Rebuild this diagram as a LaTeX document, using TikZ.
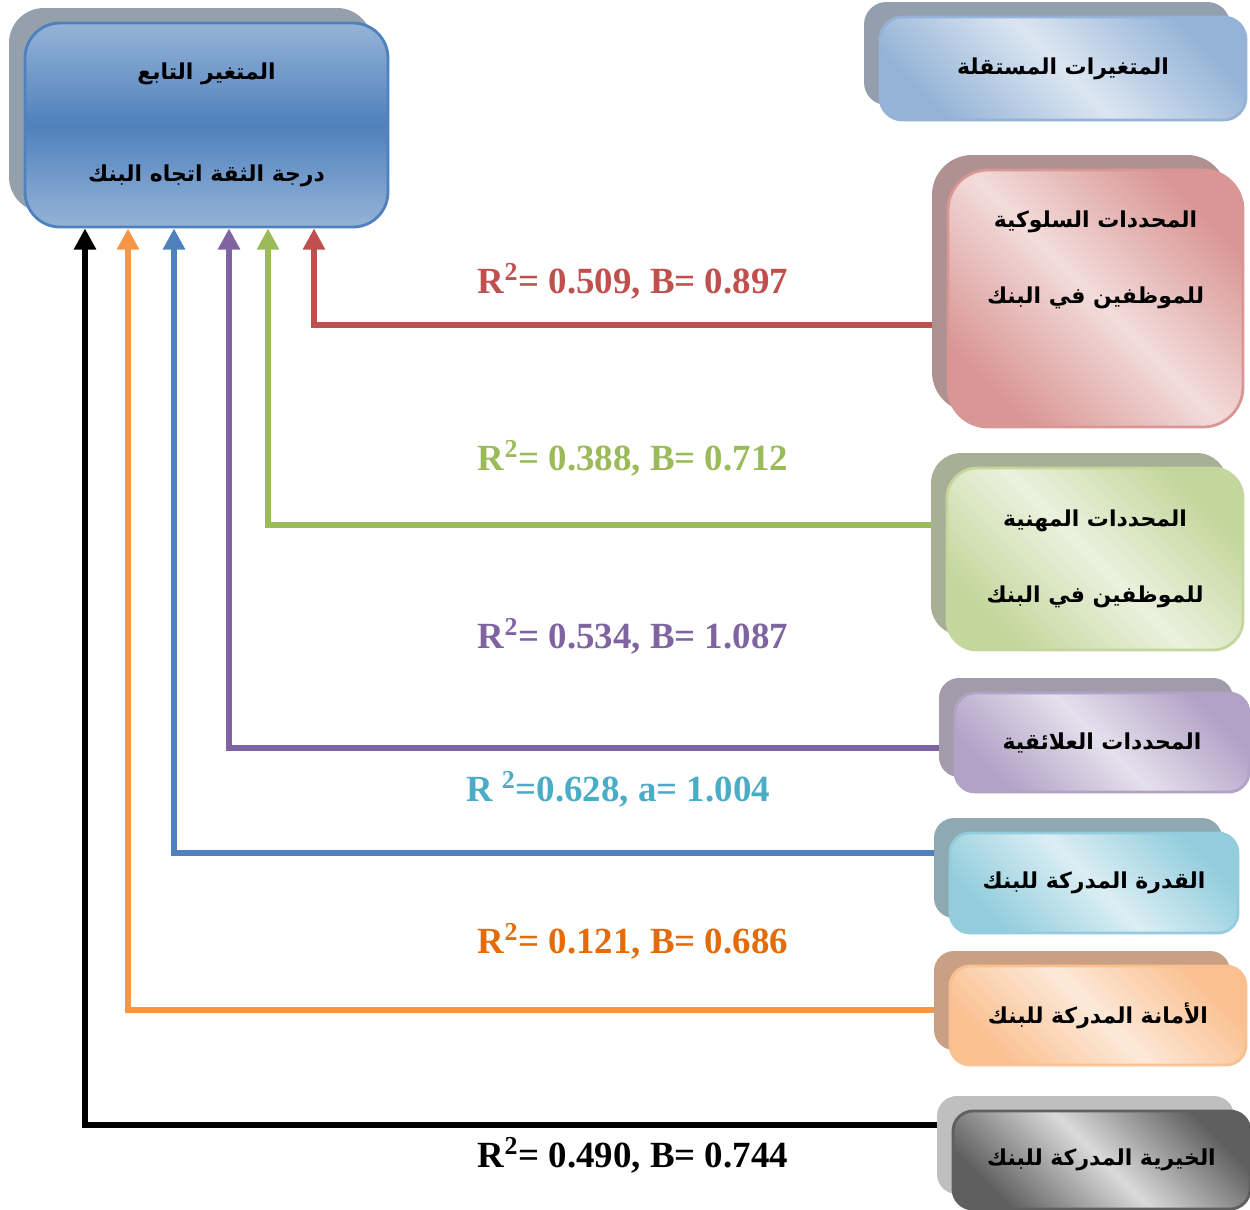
\documentclass[tikz,border=0pt]{standalone}
\usepackage{fontspec}
\setmainfont{Liberation Serif}
\newfontfamily\arabicfont[Script=Arabic]{DejaVu Sans}
\TeXXeTstate=1
\usetikzlibrary{shadows, arrows.meta, positioning, calc, backgrounds}

\definecolor{depLight}{HTML}{95B3D7}\definecolor{depDark}{HTML}{4F81BD}\definecolor{depShade}{HTML}{95A0AD}
\definecolor{hdrLight}{HTML}{DCE6F2}\definecolor{hdrDark}{HTML}{95B3D7}\definecolor{hdrShade}{HTML}{939FAD}
\definecolor{redLight}{HTML}{F2DCDB}\definecolor{redDark}{HTML}{D99694}\definecolor{redShade}{HTML}{AF9191}
\definecolor{grnLight}{HTML}{EBF1DE}\definecolor{grnDark}{HTML}{C3D69B}\definecolor{grnShade}{HTML}{A8AF95}
\definecolor{purLight}{HTML}{E5E0EC}\definecolor{purDark}{HTML}{B3A2C7}\definecolor{purShade}{HTML}{A29BA9}
\definecolor{cyaLight}{HTML}{DBEEF4}\definecolor{cyaDark}{HTML}{93CDDD}\definecolor{cyaShade}{HTML}{8EA9B1}
\definecolor{orgLight}{HTML}{FDE9D9}\definecolor{orgDark}{HTML}{FAC090}\definecolor{orgShade}{HTML}{C9A083}
\definecolor{gryLight}{HTML}{DADADA}\definecolor{gryDark}{HTML}{5F5F5F}\definecolor{gryShade}{HTML}{BFBFBF}
\definecolor{lnRed}{HTML}{C0504D}\definecolor{lnGreen}{HTML}{9BBB59}\definecolor{lnPurple}{HTML}{8064A2}
\definecolor{lnBlue}{HTML}{4F81BD}\definecolor{lnOrange}{HTML}{F79646}\definecolor{lnCyan}{HTML}{4BACC6}
\definecolor{lnBrown}{HTML}{E36C09}

\tikzset{
  pane/.style={rounded corners=0.4cm, line width=1.6pt, inner sep=0pt, align=center,
    font=\arabicfont\bfseries\fontsize{12.5}{43}\selectfont},
  tint/.style n args={3}{draw=#2, top color=#2, bottom color=#2, middle color=#1, shading angle=-45,
    drop shadow={shadow xshift=-0.32cm, shadow yshift=0.3cm, fill=#3, opacity=1}},
  link/.style={line width=3.2pt, -{Triangle[width=12pt,length=12pt]}},
  coef/.style={font=\bfseries\fontsize{21}{25}\selectfont}
}

\begin{document}
\begin{tikzpicture}
\useasboundingbox (0,0) rectangle (25,-24.18);

% dependent variable
\node[pane, rounded corners=0.7cm, minimum width=7.26cm, minimum height=4.08cm,
  tint={depDark}{depLight}{depShade}, shading angle=0, draw=depDark] (dep) at (4.13,-2.5)
  {\beginR المتغير التابع\endR\\[15pt]\beginR درجة الثقة اتجاه البنك\endR};

% independent variables
\node[pane, rounded corners=0.45cm, minimum width=7.32cm, minimum height=2.06cm,
  tint={hdrLight}{hdrDark}{hdrShade}] (hdr) at (21.26,-1.37) {\beginR المتغيرات المستقلة\endR};
\node[pane, rounded corners=0.8cm, minimum width=5.9cm, minimum height=5.14cm,
  tint={redLight}{redDark}{redShade}] (rsk) at (21.91,-5.97) {};
\node[pane] (rsktxt) at ([yshift=0.77cm]rsk.center)
  {\beginR المحددات السلوكية\endR\\\beginR للموظفين في البنك\endR};
\node[pane, rounded corners=0.6cm, minimum width=5.92cm, minimum height=3.64cm,
  tint={grnLight}{grnDark}{grnShade}] (job) at (21.9,-11.18)
  {\beginR المحددات المهنية\endR\\\beginR للموظفين في البنك\endR};
\node[pane, minimum width=5.88cm, minimum height=1.98cm,
  tint={purLight}{purDark}{purShade}] (rel) at (22.04,-14.85) {\beginR المحددات العلائقية\endR};
\node[pane, minimum width=5.76cm, minimum height=2cm,
  tint={cyaLight}{cyaDark}{cyaShade}] (abl) at (21.88,-17.66) {\beginR القدرة المدركة للبنك\endR};
\node[pane, minimum width=5.92cm, minimum height=1.98cm,
  tint={orgLight}{orgDark}{orgShade}] (hon) at (21.96,-20.31) {\beginR الأمانة المدركة للبنك\endR};
\node[pane, minimum width=5.94cm, minimum height=1.96cm,
  tint={gryLight}{gryDark}{gryShade}] (ben) at (22.03,-23.2) {\beginR الخيرية المدركة للبنك\endR};

% connectors
\begin{scope}[on background layer]
\foreach \b/\c/\dy/\dx in {rsk/lnRed/-0.53/2.15, job/lnGreen/0.68/1.23, rel/lnPurple/-0.11/0.45,
  abl/lnBlue/0.6/-0.65, hon/lnOrange/0.11/-1.57, ben/black/0.7/-2.43}
  \draw[link, color=\c] ([yshift=\dy cm]\b.west) -| ([xshift=\dx cm]dep.south);
\end{scope}

% coefficients
\node[coef, lnRed] (fitrsk) at (12.66,-5.62) {R\textsuperscript{2}= 0.509, B= 0.897};
\node[coef, lnGreen] (fitjob) at (12.66,-9.16) {R\textsuperscript{2}= 0.388, B= 0.712};
\node[coef, lnPurple] (fitrel) at (12.66,-12.72) {R\textsuperscript{2}= 0.534, B= 1.087};
\node[coef, lnCyan] (fitabl) at (12.36,-15.78) {R \textsuperscript{2}=0.628, a= 1.004};
\node[coef, lnBrown] (fithon) at (12.66,-18.82) {R\textsuperscript{2}= 0.121, B= 0.686};
\node[coef, black] (fitben) at (12.66,-23.1) {R\textsuperscript{2}= 0.490, B= 0.744};
\end{tikzpicture}
\end{document}
